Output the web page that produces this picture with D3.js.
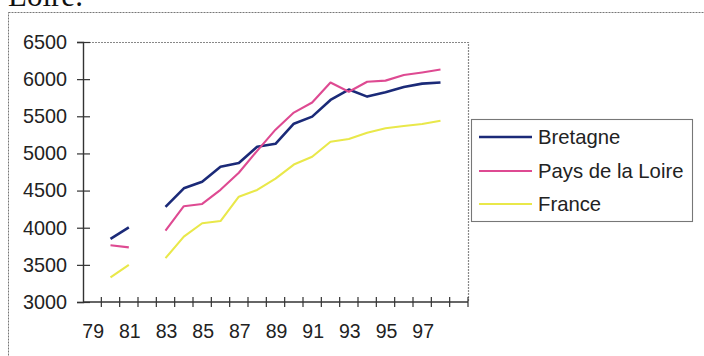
<!DOCTYPE html>
<html>
<head>
<meta charset="utf-8">
<script src="https://cdn.jsdelivr.net/npm/d3@7"></script>
<style>
  html, body { margin: 0; padding: 0; background: #fff; }
  svg { display: block; }
  text { font-family: "Liberation Sans", Arial, sans-serif; fill: #222; }
</style>
</head>
<body>
<script>
// Years 1979–1999, one category per year
const years = d3.range(79, 100).map(String);
const xTickLabels = ["79", "81", "83", "85", "87", "89", "91", "93", "95", "97"];
const yTicks = [3000, 3500, 4000, 4500, 5000, 5500, 6000, 6500];

// null = no figure for that year
const bretagne = [null, 3850, 4005, null, 4280, 4530, 4620, 4820, 4870, 5090, 5130,
                  5400, 5495, 5720, 5860, 5765, 5825, 5895, 5940, 5955, null];
const paysDeLaLoire = [null, 3765, 3735, null, 3960, 4290, 4320, 4510, 4740, 5035, 5320,
                       5550, 5685, 5955, 5830, 5965, 5980, 6055, 6090, 6130, null];
const france = [null, 3330, 3500, null, 3590, 3880, 4060, 4090, 4417, 4508, 4660,
                4850, 4955, 5158, 5194, 5279, 5338, 5369, 5396, 5440, null];

const seriesNames = ["Bretagne", "Pays de la Loire", "France"];
const seriesValues = [bretagne, paysDeLaLoire, france];
const seriesColors = ["#1b2a78", "#de4a92", "#e9e84a"];
const seriesWidths = [2.6, 2.1, 2.1];

const W = 704, H = 356;
const svg = d3.select("body").append("svg").attr("width", W).attr("height", H);

// Tail of the caption sitting above the chart
svg.append("text")
  .attr("x", 8).attr("y", 6)
  .style("font-family", "'Liberation Serif', 'Times New Roman', serif")
  .style("font-size", "31px")
  .style("fill", "#111")
  .text("Loire.");

// Chart frame
svg.append("rect")
  .attr("x", 8.5).attr("y", 12.5).attr("width", 700).attr("height", 400)
  .attr("fill", "none").attr("stroke", "#777").attr("stroke-width", 1)
  .attr("stroke-dasharray", "2,1");

const plot = { left: 83, right: 468, top: 42, bottom: 302 };

const x = d3.scaleBand().domain(years).range([plot.left, plot.right]).padding(0);
const y = d3.scaleLinear().domain([3000, 6500]).range([plot.bottom, plot.top]);

// Plot-area border (top and right)
svg.append("path")
  .attr("d", `M${plot.left},${plot.top + 0.5}H${plot.right + 0.5}V${plot.bottom}`)
  .attr("fill", "none").attr("stroke", "#888").attr("stroke-width", 1.2)
  .attr("stroke-dasharray", "2,1");

// Y axis: ticks crossing the axis line
const yAxis = svg.append("g").attr("transform", `translate(${plot.left},0)`)
  .call(d3.axisLeft(y).tickValues(yTicks).tickSize(6).tickPadding(10).tickFormat(d3.format("d")));
yAxis.select(".domain").attr("stroke", "#333").attr("stroke-width", 1.4);
yAxis.selectAll(".tick line").attr("x2", -6).attr("x1", 7).attr("stroke", "#333").attr("stroke-width", 1.2);
yAxis.selectAll(".tick text").style("font-size", "19.8px").attr("fill", "#222").attr("x", -16);

// X axis: tick marks on category boundaries, labels centred on every other year
const xAxisG = svg.append("g").attr("transform", `translate(0,${plot.bottom})`);
xAxisG.append("line")
  .attr("x1", plot.left).attr("x2", plot.right)
  .attr("stroke", "#333").attr("stroke-width", 1.4);
const boundaries = years.map(yr => x(yr)).concat([x(years[years.length - 1]) + x.bandwidth()]);
xAxisG.selectAll("line.tick").data(boundaries.slice(1)).enter().append("line")
  .attr("class", "tick")
  .attr("x1", d => d).attr("x2", d => d)
  .attr("y1", -5).attr("y2", 5)
  .attr("stroke", "#333").attr("stroke-width", 1.2);
xAxisG.selectAll("text").data(xTickLabels).enter().append("text")
  .attr("x", d => x(d) + x.bandwidth() / 2 + 1)
  .attr("y", 36)
  .attr("text-anchor", "middle")
  .style("font-size", "19.5px")
  .text(d => d);

// Series lines
const line = d3.line()
  .defined(d => d.v != null)
  .x(d => x(d.yr) + x.bandwidth() / 2)
  .y(d => y(d.v));

seriesValues.forEach((vals, i) => {
  const pts = years.map((yr, j) => ({ yr, v: vals[j] }));
  svg.append("path")
    .datum(pts)
    .attr("d", line)
    .attr("fill", "none")
    .attr("stroke", seriesColors[i])
    .attr("stroke-width", seriesWidths[i])
    .attr("stroke-linejoin", "round");
});

// Legend
const leg = { x: 471.5, y: 119.5, w: 221, h: 102 };
svg.append("rect")
  .attr("x", leg.x).attr("y", leg.y).attr("width", leg.w).attr("height", leg.h)
  .attr("fill", "#fff").attr("stroke", "#777").attr("stroke-width", 1.1);
const rowY = [137, 171, 204];
seriesNames.forEach((name, i) => {
  svg.append("line")
    .attr("x1", 479).attr("x2", 532)
    .attr("y1", rowY[i]).attr("y2", rowY[i])
    .attr("stroke", seriesColors[i]).attr("stroke-width", seriesWidths[i]);
  svg.append("text")
    .attr("x", 538).attr("y", rowY[i] + 7)
    .style("font-size", "20.3px")
    .text(name);
});
</script>
</body>
</html>
